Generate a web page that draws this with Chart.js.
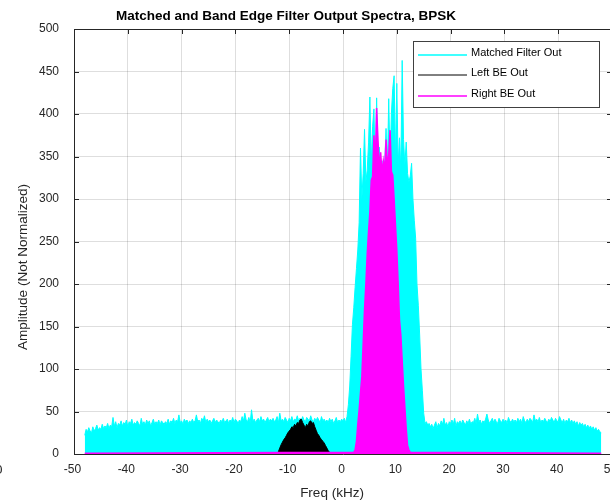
<!DOCTYPE html>
<html>
<head>
<meta charset="utf-8">
<title>Matched and Band Edge Filter Output Spectra, BPSK</title>
<script src="https://cdn.jsdelivr.net/npm/chart.js@4.4.1/dist/chart.umd.min.js"></script>
<style>
  html, body { margin: 0; padding: 0; background: #fff; overflow: hidden; }
  #wrap { position: relative; width: 620px; height: 504px; }
</style>
</head>
<body>
<div id="wrap"><canvas id="spectra" width="620" height="504"></canvas></div>
<script>
// spectrum bins are 0.25 kHz wide
const binWidth = 0.25;
const freqRange = [-48, 48];
const xTicks = [-50, -40, -30, -20, -10, 0, 10, 20, 30, 40, 50];
const yTicks = [0, 50, 100, 150, 200, 250, 300, 350, 400, 450, 500];

// matched filter output, -48 .. 48 kHz
const matchedStart = -48;
const matchedOut = [
  22, 29, 26, 31, 27, 25, 32, 27, 30, 34, 28, 31, 29, 35, 30, 33, 31, 36, 30, 34,
  32, 43, 33, 38, 31, 36, 34, 39, 33, 37, 35, 40, 32, 38, 36, 41, 34, 37, 35, 39,
  36, 33, 42, 35, 38, 34, 40, 36, 39, 33, 37, 41, 35, 38, 36, 40, 34, 39, 37, 35,
  38, 36, 41, 35, 39, 37, 42, 36, 40, 38, 46, 37, 39, 35, 41, 38, 40, 36, 39, 37,
  41, 37, 39, 46, 38, 40, 36, 42, 39, 45, 37, 41, 38, 40, 36, 39, 42, 37, 40, 38,
  36, 40, 38, 42, 37, 39, 41, 36, 40, 38, 43, 37, 41, 39, 36, 40, 38, 44, 39, 48,
  40, 38, 43, 37, 52, 39, 41, 37, 40, 42, 38, 44, 39, 41, 37, 40, 43, 38, 41, 39,
  42, 38, 40, 44, 37, 48, 39, 41, 38, 43, 40, 37, 42, 39, 44, 38, 41, 40, 45, 39,
  42, 39, 44, 40, 38, 43, 41, 39, 45, 40, 38, 42, 39, 43, 40, 37, 44, 39, 41, 38,
  40, 37, 42, 38, 41, 36, 39, 43, 37, 40, 38, 41, 39, 42, 37, 44, 58, 80, 115, 152,
  172, 196, 218, 240, 272, 360, 300, 330, 382, 320, 334, 366, 420, 340, 385, 406, 330, 419, 340, 361,
  330, 345, 325, 340, 383, 335, 418, 340, 401, 430, 445, 350, 436, 340, 372, 335, 463, 370, 340, 367,
  330, 320, 327, 342, 300, 275, 254, 200, 175, 140, 100, 75, 48, 36, 38, 34, 36, 32, 35, 30,
  34, 38, 31, 36, 33, 39, 35, 42, 34, 37, 32, 38, 36, 40, 35, 42, 33, 38, 36, 39,
  35, 40, 37, 34, 39, 36, 41, 35, 38, 37, 42, 36, 47, 38, 40, 35, 39, 37, 41, 47,
  40, 36, 39, 42, 37, 41, 38, 36, 42, 39, 37, 41, 38, 40, 36, 43, 39, 37, 41, 38,
  40, 37, 42, 38, 41, 36, 44, 39, 37, 41, 38, 42, 40, 37, 46, 39, 41, 38, 43, 37,
  40, 38, 42, 39, 37, 41, 38, 43, 40, 37, 42, 39, 38, 44, 40, 37, 41, 36, 40, 38,
  42, 37, 40, 36, 39, 35, 38, 33, 37, 34, 36, 32, 35, 31, 34, 30, 33, 29, 32, 28,
  31, 27, 29, 26, 25
];

// left band edge filter output, -12.5 .. -2.25 kHz
const leftBEStart = -12.5;
const leftBEOut = [
  0, 1, 3, 7, 11, 14, 17, 19, 22, 25, 27, 29, 32, 31, 35, 33, 37, 36, 40, 41,
  37, 34, 31, 35, 33, 38, 39, 36, 37, 32, 28, 24, 22, 19, 17, 15, 13, 10, 7, 4,
  2, 0
];

// right band edge filter output, 2.0 .. 12.5 kHz
const rightBEStart = 2.0;
const rightBEOut = [
  2, 5, 15, 35, 52, 72, 91, 130, 170, 200, 235, 262, 285, 322, 326, 375, 340, 407, 370, 335,
  355, 330, 345, 335, 370, 338, 352, 381, 332, 328, 300, 270, 240, 201, 158, 140, 110, 80, 55, 30,
  10, 5, 2
];
const rightBEFloor = 1;

const legendLabels = ['Matched Filter Out', 'Left BE Out', 'Right BE Out'];
const seriesColors = ['#00ffff', '#000000', '#ff00ff'];

function toPoints(start, values) {
  return values.map((v, i) => ({ x: start + i * binWidth, y: v }));
}

const fontFamily = '"Liberation Sans", Arial, Helvetica, sans-serif';
const inkColor = '#262626';

// box, inward tick marks (drawn under the traces)
const axesBox = {
  id: 'axesBox',
  beforeDatasetsDraw(chart) {
    const { ctx, chartArea: a, scales: { x, y } } = chart;
    ctx.save();
    ctx.strokeStyle = inkColor;
    ctx.lineWidth = 1;
    ctx.beginPath();
    ctx.rect(a.left + 0.5, a.top + 0.5, a.right - a.left, a.bottom - a.top);
    xTicks.forEach(t => {
      const px = Math.round(x.getPixelForValue(t)) + 0.5;
      ctx.moveTo(px, a.bottom); ctx.lineTo(px, a.bottom - 5);
      ctx.moveTo(px, a.top); ctx.lineTo(px, a.top + 5);
    });
    yTicks.forEach(t => {
      const py = Math.round(y.getPixelForValue(t)) + 0.5;
      ctx.moveTo(a.left, py); ctx.lineTo(a.left + 5, py);
      ctx.moveTo(a.right, py); ctx.lineTo(a.right - 5, py);
    });
    ctx.stroke();
    ctx.restore();
  }
};

// title, axis labels and the boxed legend
const annotations = {
  id: 'annotations',
  afterDraw(chart) {
    const ctx = chart.ctx;
    ctx.save();
    ctx.fillStyle = '#000';
    ctx.font = 'bold 13.5px ' + fontFamily;
    ctx.textAlign = 'center';
    ctx.textBaseline = 'alphabetic';
    ctx.fillText('Matched and Band Edge Filter Output Spectra, BPSK', 286, 20);

    ctx.fillStyle = inkColor;
    ctx.font = '13.5px ' + fontFamily;
    ctx.fillText('Freq (kHz)', 332, 497);

    ctx.save();
    ctx.translate(27, 267);
    ctx.rotate(-Math.PI / 2);
    ctx.fillText('Amplitude (Not Normalized)', 0, 0);
    ctx.restore();

    ctx.textAlign = 'left';
    ctx.fillText('0', -5, 474);

    // legend
    ctx.fillStyle = '#fff';
    ctx.fillRect(413.5, 41.5, 186, 66);
    ctx.strokeStyle = '#404040';
    ctx.lineWidth = 1;
    ctx.strokeRect(413.5, 41.5, 186, 66);
    const rows = [55, 75, 96];
    ctx.font = '11px ' + fontFamily;
    legendLabels.forEach((label, i) => {
      ctx.strokeStyle = seriesColors[i];
      ctx.lineWidth = i === 1 ? 1 : 1.5;
      ctx.beginPath();
      ctx.moveTo(418, rows[i]);
      ctx.lineTo(467, rows[i]);
      ctx.stroke();
      ctx.fillStyle = '#000';
      ctx.fillText(label, 471, rows[i] + 1);
    });
    ctx.restore();
  }
};

const ctx = document.getElementById('spectra').getContext('2d');

new Chart(ctx, {
  type: 'line',
  data: {
    datasets: [
      {
        label: legendLabels[2],
        data: [
          { x: freqRange[0], y: rightBEFloor },
          ...toPoints(rightBEStart, rightBEOut),
          { x: freqRange[1], y: rightBEFloor }
        ],
        borderColor: seriesColors[2],
        backgroundColor: seriesColors[2],
        borderWidth: 1.5,
        fill: 'origin',
        order: 1
      },
      {
        label: legendLabels[1],
        data: toPoints(leftBEStart, leftBEOut),
        borderColor: seriesColors[1],
        backgroundColor: seriesColors[1],
        borderWidth: 1,
        fill: 'origin',
        order: 2
      },
      {
        label: legendLabels[0],
        data: toPoints(matchedStart, matchedOut),
        borderColor: seriesColors[0],
        backgroundColor: seriesColors[0],
        borderWidth: 1,
        fill: 'origin',
        order: 3
      }
    ]
  },
  options: {
    responsive: false,
    animation: false,
    devicePixelRatio: 1,
    layout: { padding: { left: 0, right: 8, top: 29, bottom: 0 } },
    elements: {
      point: { radius: 0, hoverRadius: 0 },
      line: { tension: 0 }
    },
    plugins: {
      legend: { display: false },
      title: { display: false },
      tooltip: { enabled: false }
    },
    scales: {
      x: {
        type: 'linear',
        min: -50,
        max: 50,
        afterBuildTicks: scale => { scale.ticks = xTicks.map(v => ({ value: v })); },
        afterFit: scale => {
          // the end labels may run past the plot box
          scale.height = 50;
          scale.paddingLeft = 0;
          scale.paddingRight = 0;
        },
        border: { display: false },
        grid: { color: 'rgba(0,0,0,0.13)', drawTicks: false },
        ticks: {
          autoSkip: false,
          maxRotation: 0,
          padding: 8,
          labelOffset: -1.5,
          color: inkColor,
          font: { family: fontFamily, size: 12 }
        }
      },
      y: {
        min: 0,
        max: 500,
        afterBuildTicks: scale => { scale.ticks = yTicks.map(v => ({ value: v })); },
        afterFit: scale => {
          scale.width = 74;
          scale.paddingTop = 0;
          scale.paddingBottom = 0;
        },
        border: { display: false },
        grid: { color: 'rgba(0,0,0,0.13)', drawTicks: false },
        ticks: {
          autoSkip: false,
          padding: 15,
          color: inkColor,
          font: { family: fontFamily, size: 12 }
        }
      }
    }
  },
  plugins: [axesBox, annotations]
});
</script>
</body>
</html>
